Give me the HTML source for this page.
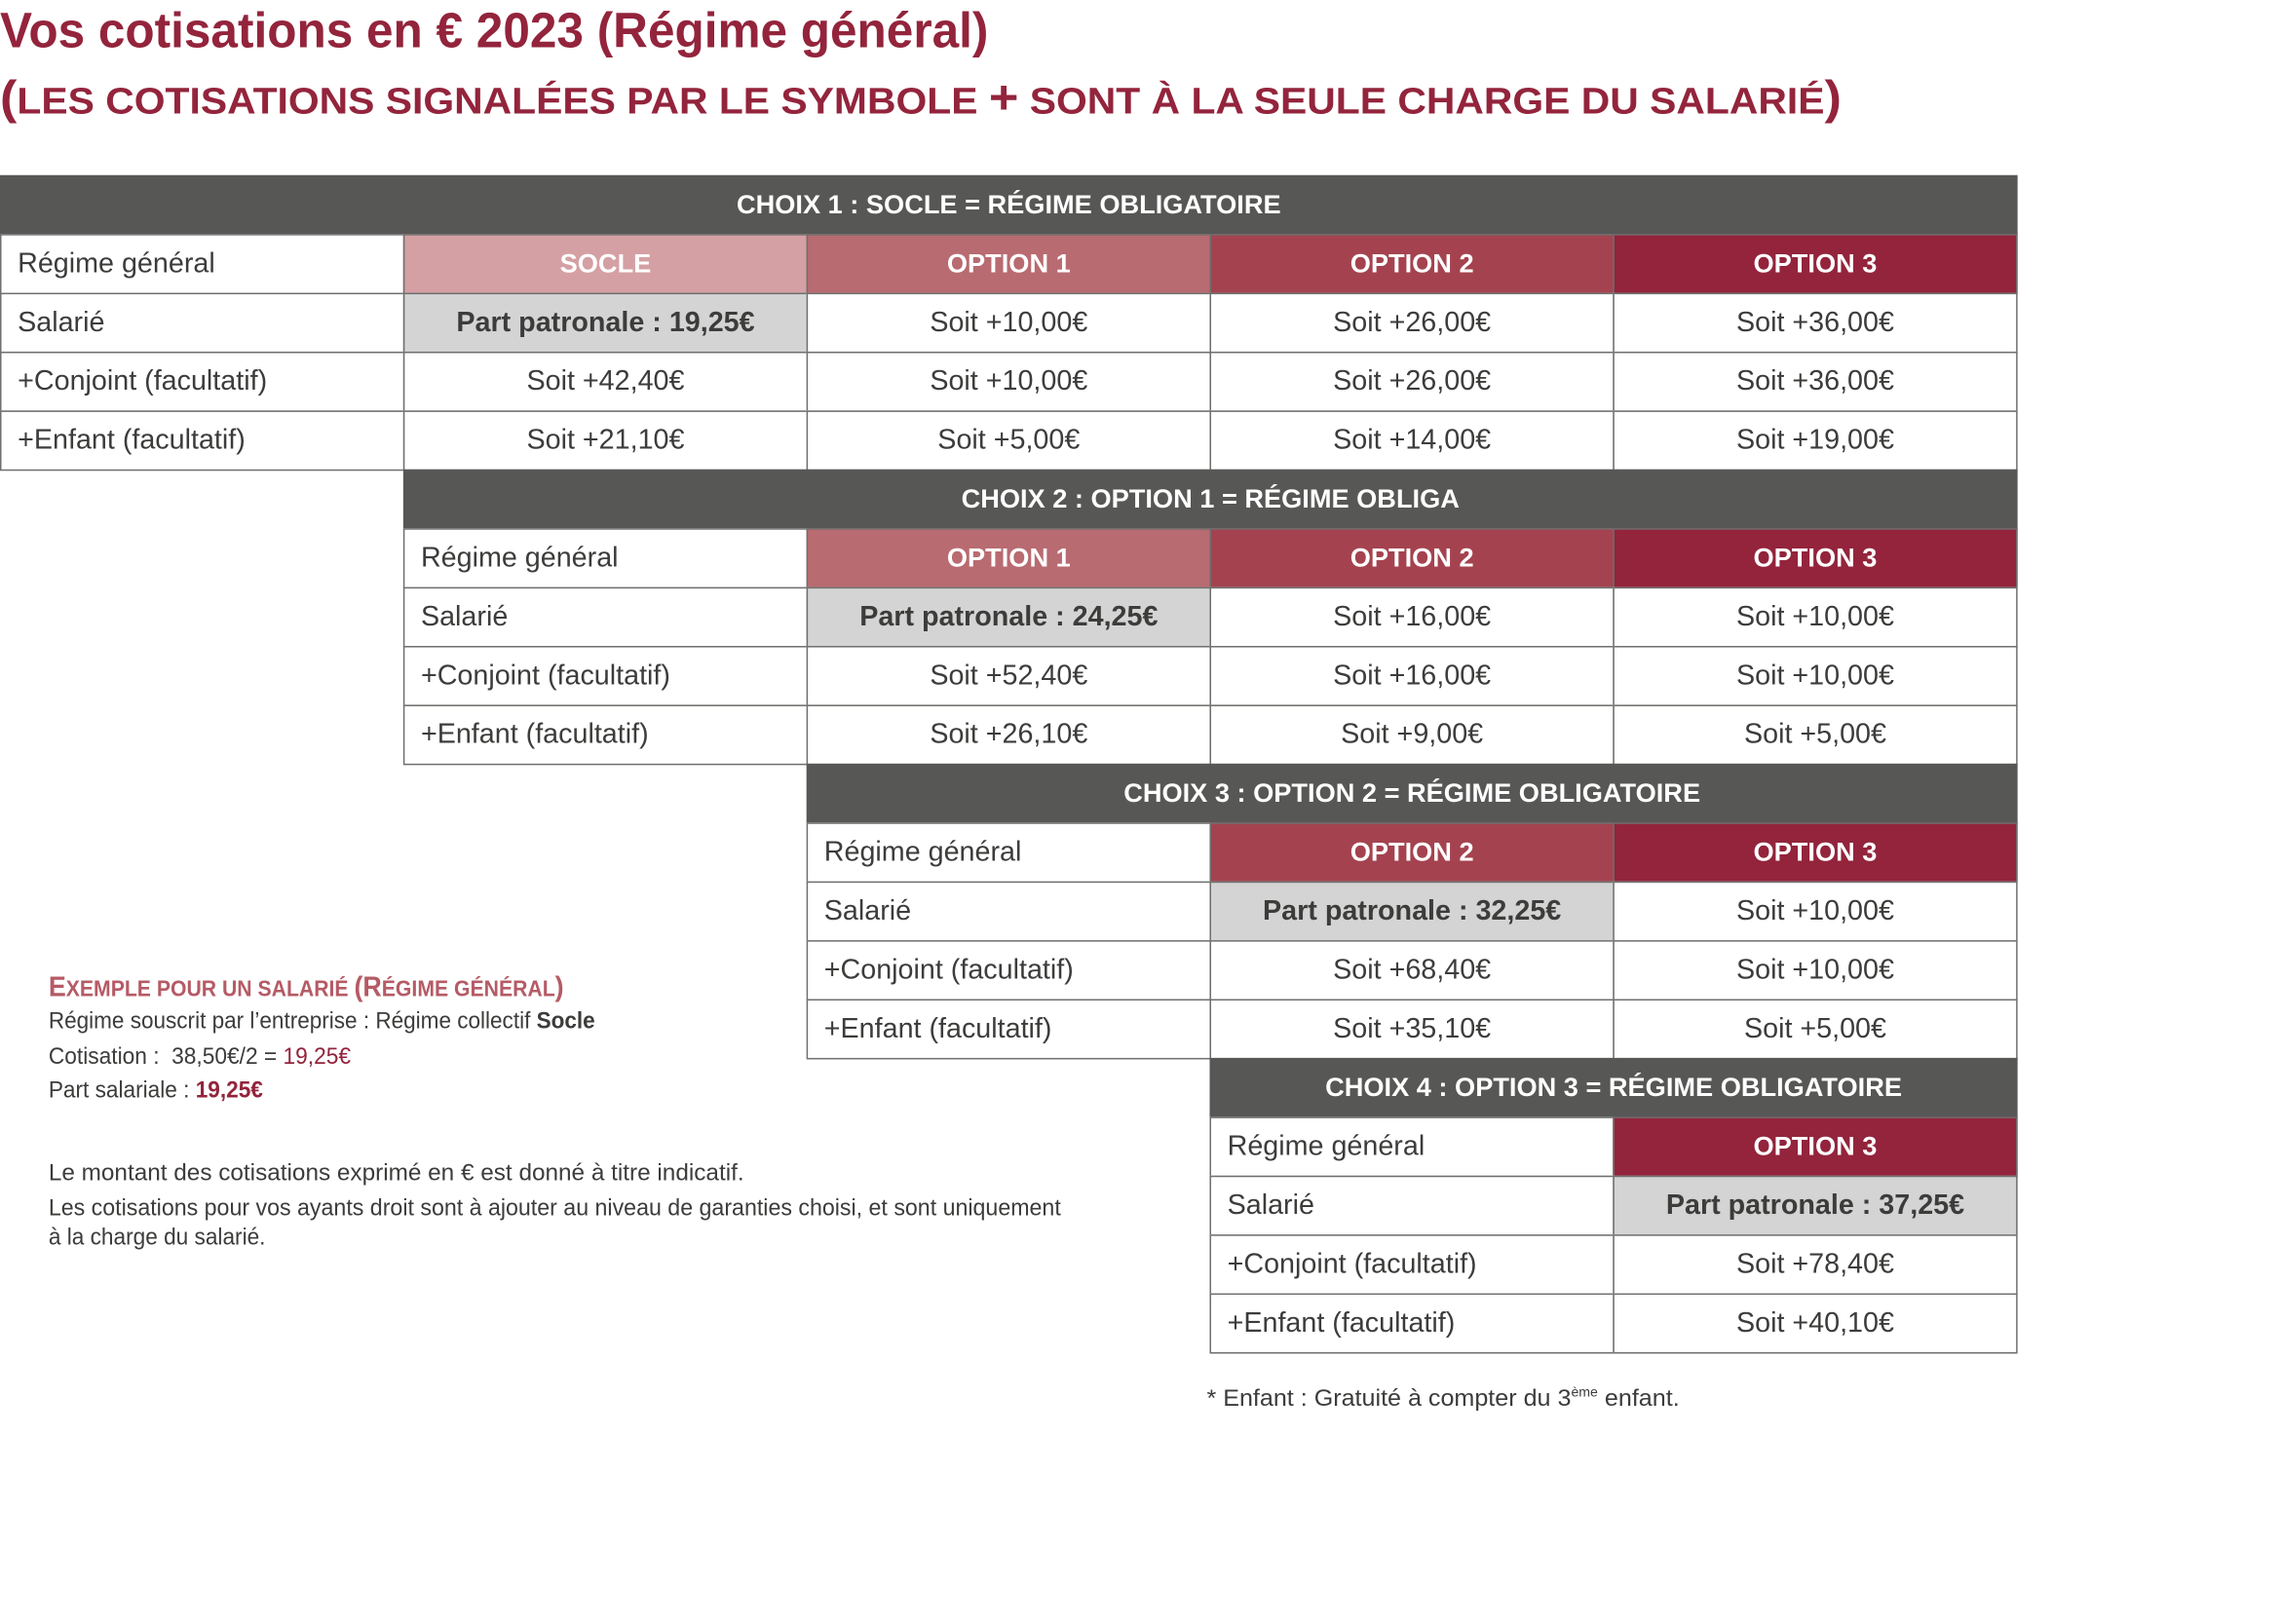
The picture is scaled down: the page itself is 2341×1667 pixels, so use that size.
<!DOCTYPE html>
<html lang="fr"><head><meta charset="utf-8">
<style>
html,body{margin:0;padding:0;background:#fff;overflow:hidden}
body{width:2341px;height:1667px}
#stage{position:absolute;left:0;top:0;width:1550px;height:1104px;transform-origin:0 0;transform:scale(1.51032);font-family:"Liberation Sans Narrow","Liberation Sans",sans-serif;color:#3c3c3b}
.fit{position:absolute;white-space:nowrap;transform-origin:0 0}
.cell{position:absolute;box-sizing:border-box;border:1px solid #6f6f6e;display:flex;align-items:center;justify-content:center;font-size:19px;white-space:nowrap;background:#fff;color:#3c3c3b}
.lab{justify-content:flex-start;padding-left:11px}
.hd{color:#fff;font-weight:bold;font-size:18px;border-color:#6f6f6e}
.dark{background:#575756;color:#fff;font-weight:bold;font-size:18px;border:none}
.pp{background:#d4d4d4;font-weight:bold}
</style></head><body>
<div id="stage">
<div class="fit" id="t1" style="left:0;top:2px;font-size:34px;font-weight:bold;color:#93243c">Vos cotisations en € 2023 (Régime général)</div>
<div class="fit" id="t2" style="left:0;top:48px;font-size:32px;font-weight:bold;color:#93243c">(<span style="font-size:25px">LES COTISATIONS SIGNALÉES PAR LE SYMBOLE </span>+<span style="font-size:25px"> SONT À LA SEULE CHARGE DU SALARIÉ</span>)</div>

<div id="tables"></div>

<div class="fit" id="ex1" style="left:33px;top:661px;font-size:19px;font-weight:bold;color:#b55b66">E<span style="font-size:15px">XEMPLE POUR UN SALARIÉ </span>(R<span style="font-size:15px">ÉGIME GÉNÉRAL</span>)</div>
<div class="fit" id="ex2" style="left:33px;top:686px;font-size:16px">Régime souscrit par l’entreprise : Régime collectif <b>Socle</b></div>
<div class="fit" id="ex3" style="left:33px;top:710px;font-size:16px">Cotisation :&nbsp; 38,50€/2 = <span style="color:#93243c">19,25€</span></div>
<div class="fit" id="ex4" style="left:33px;top:733px;font-size:16px">Part salariale : <b style="color:#93243c">19,25€</b></div>
<div class="fit" id="n1" style="left:33px;top:789px;font-size:16px">Le montant des cotisations exprimé en € est donné à titre indicatif.</div>
<div class="fit" id="n2" style="left:33px;top:813px;font-size:16px">Les cotisations pour vos ayants droit sont à ajouter au niveau de garanties choisi, et sont uniquement</div>
<div class="fit" id="n3" style="left:33px;top:833px;font-size:16px">à la charge du salarié.</div>
<div class="fit" id="fn" style="left:820px;top:941px;font-size:16px">* Enfant : Gratuité à compter du 3<sup style="font-size:9px">ème</sup> enfant.</div>
</div>
<script>
var titles=["CHOIX 1 : SOCLE = RÉGIME OBLIGATOIRE","CHOIX 2 : OPTION 1 = RÉGIME OBLIGA","CHOIX 3 : OPTION 2 = RÉGIME OBLIGATOIRE","CHOIX 4 : OPTION 3 = RÉGIME OBLIGATOIRE"];
var colNames=["SOCLE","OPTION 1","OPTION 2","OPTION 3"];
var colColors=["#d4a0a4","#b86b71","#a4434f","#93243c"];
var rowLabels=["Salarié","+Conjoint (facultatif)","+Enfant (facultatif)"];
var patronale=["19,25€","24,25€","32,25€","37,25€"];
var salarie=[["10,00€","26,00€","36,00€"],["16,00€","10,00€"],["10,00€"],[]];
var conjoint=[["42,40€","10,00€","26,00€","36,00€"],["52,40€","16,00€","10,00€"],["68,40€","10,00€"],["78,40€"]];
var enfant=[["21,10€","5,00€","14,00€","19,00€"],["26,10€","9,00€","5,00€"],["35,10€","5,00€"],["40,10€"]];
(function(){
var colX=[0,274,548,822,1096,1370];
var host=document.getElementById('tables');
function mk(x,y,w,h,cls,txt){var d=document.createElement('div');d.className='cell '+cls;d.style.left=x+'px';d.style.top=y+'px';d.style.width=(w+1)+'px';d.style.height=(h+1)+'px';d.textContent=txt;host.appendChild(d);return d;}
for(var k=0;k<4;k++){
  var ty=119+k*200, x0=colX[k];
  var h=mk(x0,ty,1370-x0,40,'dark',titles[k]);
  
  
  var l=mk(x0,ty+40,274,40,'lab','Régime général');
  
  
  for(var c=k+1;c<=4;c++){
    var hc=mk(colX[c],ty+40,274,40,'hd',colNames[c-1]);
    hc.style.background=colColors[c-1];
    
    
  }
  var rows=[salarie[k],conjoint[k],enfant[k]];
  for(var r=0;r<3;r++){
    var y=ty+80+r*40;
    var rl=mk(x0,y,274,40,'lab',rowLabels[r]);
    
    
    var vals=rows[r];
    for(var c2=k+1;c2<=4;c2++){
      var cell;
      if(r===0&&c2===k+1){cell=mk(colX[c2],y,274,40,'pp','Part patronale : '+patronale[k]);}
      else{var idx=(r===0)?c2-k-2:c2-k-1;cell=mk(colX[c2],y,274,40,'','Soit +'+vals[idx]);}
      
      
    }
  }
}
function fit(id,w){var e=document.getElementById(id);var ow=e.offsetWidth;if(ow>0)e.style.transform='scaleX('+(w/ow)+')';}
fit('t1',672);fit('t2',1251);fit('ex1',350);fit('ex2',371);fit('ex3',205);fit('ex4',146);
fit('n1',473);fit('n2',688);fit('n3',147);fit('fn',321);
})();
</script>
</body></html>
